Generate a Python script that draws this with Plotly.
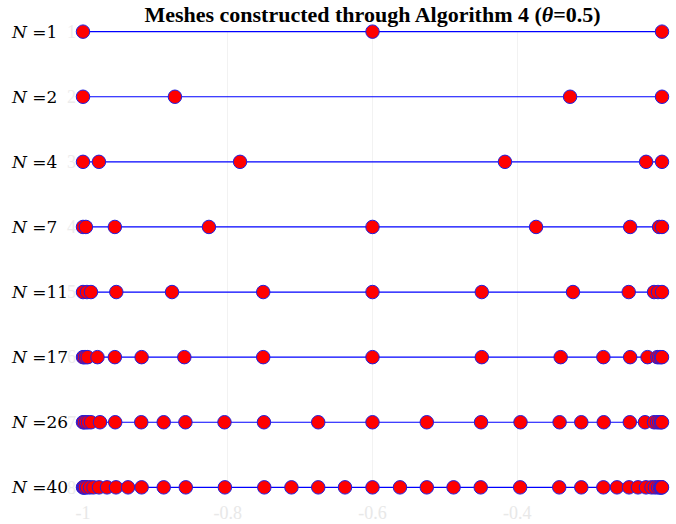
import plotly.graph_objects as go

# Mesh levels (N) and the mesh nodes
n_labels = ["1", "2", "4", "7", "11", "17", "26", "40"]

mesh_n1 = [-1.0, -0.6, -0.2]
mesh_n2 = [-1.0, -0.873, -0.327, -0.2]
mesh_n4 = [-1.0, -0.978, -0.783, -0.417, -0.222, -0.2]
mesh_n7 = [-1.0, -0.996, -0.956, -0.826, -0.6, -0.374, -0.244, -0.204, -0.2]
mesh_n11 = [-1.0, -0.9945, -0.989, -0.954, -0.877, -0.751, -0.6,
            -0.449, -0.323, -0.246, -0.211, -0.2055, -0.2]
mesh_n17 = [-1.0, -0.9985, -0.996, -0.9935, -0.98, -0.956, -0.919, -0.86, -0.751, -0.6,
            -0.449, -0.34, -0.281, -0.244, -0.22, -0.2065, -0.204, -0.2015, -0.2]
mesh_n26 = [-1.0, -0.9985, -0.996, -0.993, -0.989, -0.9765, -0.9555, -0.9195, -0.8885,
            -0.8585, -0.8045, -0.75, -0.675, -0.6, -0.525, -0.45, -0.3955, -0.3415,
            -0.3115, -0.2805, -0.2445, -0.2235, -0.211, -0.207, -0.204, -0.2015, -0.2]
mesh_n40 = [-1.0, -0.9993, -0.9986, -0.9972, -0.9945, -0.9903, -0.9855, -0.9779, -0.9668,
            -0.9544, -0.9378, -0.919, -0.8885, -0.858, -0.804, -0.7495, -0.712, -0.675,
            -0.638, -0.6, -0.562, -0.525, -0.488, -0.4505, -0.396, -0.342, -0.3115, -0.281,
            -0.2622, -0.2456, -0.2332, -0.2221, -0.2145, -0.2097, -0.2055, -0.2028, -0.2014,
            -0.2007, -0.2]

meshes = [mesh_n1, mesh_n2, mesh_n4, mesh_n7, mesh_n11, mesh_n17, mesh_n26, mesh_n40]
row_ids = [1, 2, 3, 4, 5, 6, 7, 8]
x_ticks = [-1, -0.8, -0.6, -0.4, -0.2]
x_tick_text = ["-1", "-0.8", "-0.6", "-0.4", "-0.2"]

SERIF = "Liberation Serif, Times New Roman, serif"
MATH = "DejaVu Serif, serif"

fig = go.Figure()
for r, pts in zip(row_ids, meshes):
    fig.add_trace(go.Scatter(
        x=pts, y=[r] * len(pts), mode="lines+markers",
        line=dict(color="#0000ff", width=1.2),
        marker=dict(size=13.5, color="#ff0000", line=dict(color="#2020e0", width=1)),
        cliponaxis=False, showlegend=False, hoverinfo="x",
    ))

for r, n in zip(row_ids, n_labels):
    fig.add_annotation(
        x=-74 / 579, xref="paper", y=r, yref="y", xanchor="left", yanchor="middle",
        text=f"<i>N</i> ={n}", showarrow=False,
        font=dict(family=MATH, size=17, color="#000000"),
    )

fig.update_layout(
    width=676, height=524,
    margin=dict(l=83, r=14, t=31, b=36, autoexpand=False),
    paper_bgcolor="white", plot_bgcolor="white",
    title=dict(text="<b>Meshes constructed through Algorithm 4 (<i>θ</i>=0.5)</b>",
               x=0.5, xref="paper", xanchor="center", y=1 - 14 / 524, yref="container",
               yanchor="middle",
               font=dict(family=SERIF, size=22, color="#000000")),
    font=dict(family=SERIF),
)
fig.update_xaxes(
    range=[-1, -0.2], tickvals=x_ticks, ticktext=x_tick_text, automargin=False,
    showgrid=True, gridcolor="#f2f2f2", gridwidth=1, zeroline=False,
    showline=False, ticks="", ticklabelstandoff=12,
    tickfont=dict(family=SERIF, size=18, color="#e8e8e8"),
)
fig.update_yaxes(
    range=[8.01, 0.99], tickvals=row_ids, ticktext=[str(r) for r in row_ids], automargin=False,
    showgrid=False, zeroline=False, showline=False, ticks="", ticklabelstandoff=6,
    tickfont=dict(family=SERIF, size=18, color="#ececec"),
)

fig.write_html("out.html", config={"displayModeBar": False},
               post_script="document.body.style.margin='0';")
